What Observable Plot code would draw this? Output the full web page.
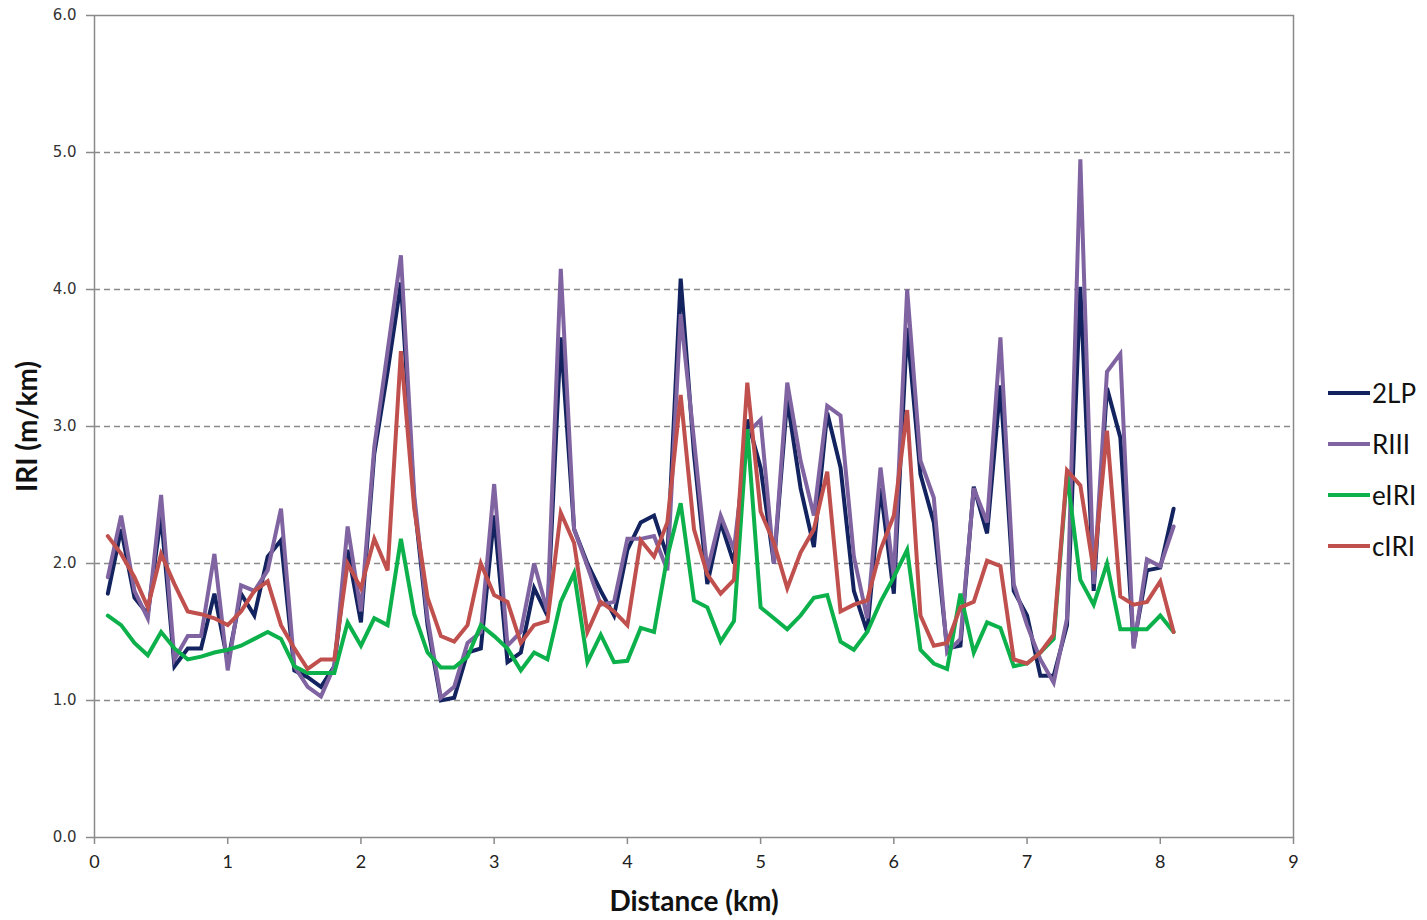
<!DOCTYPE html>
<html>
<head>
<meta charset="utf-8">
<script src="https://cdn.jsdelivr.net/npm/d3@7"></script>
<script src="https://cdn.jsdelivr.net/npm/@observablehq/plot@0.6"></script>
<style>
  html, body { margin: 0; padding: 0; background: #fff; }
  #wrap { position: relative; width: 1427px; height: 920px; }
  #legend { position: absolute; left: 1328px; top: 367px; font-family: Lato, "Open Sans", sans-serif; font-size: 26px; color: #111; }
  #legend .item { display: flex; align-items: center; height: 51px; }
  #legend .sw { width: 42px; height: 4px; margin-right: 2px; }
</style>
</head>
<body>
<div id="wrap">
  <div id="chart"></div>
  <div id="legend"></div>
</div>
<script>
const distance = [0.1,0.2,0.3,0.4,0.5,0.6,0.7,0.8,0.9,1.0,1.1,1.2,1.3,1.4,1.5,1.6,1.7,1.8,1.9,2.0,2.1,2.2,2.3,2.4,2.5,2.6,2.7,2.8,2.9,3.0,3.1,3.2,3.3,3.4,3.5,3.6,3.7,3.8,3.9,4.0,4.1,4.2,4.3,4.4,4.5,4.6,4.7,4.8,4.9,5.0,5.1,5.2,5.3,5.4,5.5,5.6,5.7,5.8,5.9,6.0,6.1,6.2,6.3,6.4,6.5,6.6,6.7,6.8,6.9,7.0,7.1,7.2,7.3,7.4,7.5,7.6,7.7,7.8,7.9,8.0,8.1];

const iri2LP = [1.78,2.25,1.75,1.63,2.35,1.25,1.38,1.38,1.78,1.28,1.78,1.62,2.05,2.17,1.22,1.17,1.10,1.25,2.10,1.57,2.80,3.40,4.05,2.45,1.55,1.00,1.02,1.35,1.38,2.35,1.28,1.35,1.82,1.62,3.65,2.25,2.00,1.80,1.62,2.10,2.30,2.35,2.05,4.08,2.80,1.85,2.30,2.00,3.05,2.70,2.00,3.20,2.55,2.12,3.10,2.70,1.80,1.50,2.55,1.78,3.72,2.65,2.30,1.38,1.40,2.56,2.22,3.30,1.80,1.62,1.18,1.18,1.55,4.02,1.80,3.28,2.92,1.40,1.95,1.97,2.40];

const iriRIII = [1.90,2.35,1.80,1.60,2.50,1.30,1.47,1.47,2.07,1.22,1.84,1.80,1.95,2.40,1.25,1.10,1.03,1.25,2.27,1.65,2.85,3.55,4.25,2.50,1.60,1.02,1.10,1.42,1.50,2.58,1.40,1.50,2.00,1.65,4.15,2.25,1.98,1.70,1.72,2.18,2.18,2.20,1.95,3.82,2.90,1.95,2.35,2.10,2.95,3.05,2.00,3.32,2.75,2.35,3.15,3.08,2.05,1.60,2.70,1.90,4.00,2.75,2.48,1.35,1.45,2.55,2.30,3.65,1.85,1.55,1.30,1.13,1.60,4.95,1.85,3.40,3.53,1.38,2.03,1.98,2.27];

const iriE = [1.62,1.55,1.42,1.33,1.50,1.38,1.30,1.32,1.35,1.37,1.40,1.45,1.50,1.45,1.25,1.20,1.20,1.20,1.57,1.40,1.60,1.55,2.18,1.63,1.35,1.24,1.24,1.32,1.55,1.47,1.38,1.22,1.35,1.30,1.72,1.93,1.28,1.48,1.28,1.29,1.53,1.50,2.05,2.44,1.73,1.68,1.43,1.58,2.98,1.68,1.60,1.52,1.62,1.75,1.77,1.43,1.37,1.50,1.72,1.90,2.10,1.37,1.27,1.23,1.78,1.35,1.57,1.53,1.25,1.27,1.35,1.45,2.65,1.88,1.70,2.00,1.52,1.52,1.52,1.62,1.50];

const iriC = [2.20,2.07,1.90,1.68,2.07,1.85,1.65,1.63,1.60,1.55,1.65,1.80,1.87,1.55,1.38,1.23,1.30,1.30,2.00,1.82,2.18,1.95,3.55,2.40,1.75,1.47,1.43,1.55,2.00,1.77,1.72,1.42,1.55,1.58,2.37,2.15,1.50,1.72,1.65,1.55,2.17,2.05,2.30,3.23,2.25,1.92,1.78,1.88,3.32,2.38,2.15,1.82,2.08,2.25,2.67,1.65,1.70,1.73,2.10,2.35,3.12,1.62,1.40,1.42,1.68,1.72,2.02,1.98,1.30,1.27,1.35,1.48,2.68,2.57,1.95,2.97,1.76,1.70,1.72,1.87,1.50];

const seriesNames = ["2LP", "RIII", "eIRI", "cIRI"];
const seriesColors = ["#13235f", "#8064a2", "#0db14b", "#c0504d"];
const seriesValues = [iri2LP, iriRIII, iriE, iriC];

const xTicks = [0,1,2,3,4,5,6,7,8,9];
const yTicks = [0,1,2,3,4,5,6];
const gridTicks = [1,2,3,4,5];

const rows = [];
seriesNames.forEach((name, i) => {
  distance.forEach((d, j) => rows.push({series: name, x: d, y: seriesValues[i][j]}));
});

const chart = Plot.plot({
  width: 1427,
  height: 920,
  marginLeft: 94,
  marginRight: 134,
  marginTop: 15,
  marginBottom: 83,
  style: {background: "#fff", overflow: "visible"},
  x: {domain: [0, 9]},
  y: {domain: [0, 6]},
  color: {domain: seriesNames, range: seriesColors},
  marks: [
    Plot.gridY(gridTicks, {stroke: "#8a8a8a", strokeOpacity: 1, strokeWidth: 1.5, strokeDasharray: "6,4"}),
    Plot.frame({stroke: "#8a8a8a", strokeWidth: 1.5}),
    Plot.axisY(yTicks, {tickSize: 8, tickPadding: 10, tickFormat: d => d.toFixed(1), label: null,
      fill: "#333", stroke: "#8a8a8a", strokeWidth: 1.5}),
    Plot.axisX(xTicks, {tickSize: 7, tickPadding: 11, tickFormat: d => String(d), label: null,
      fill: "#222", stroke: "#8a8a8a", strokeWidth: 1.5}),
    Plot.line(rows, {x: "x", y: "y", z: "series", stroke: "series", strokeWidth: 4, strokeLinejoin: "miter", strokeMiterlimit: 4}),
    Plot.text(["Distance (km)"], {frameAnchor: "bottom", dy: 73, fontFamily: "Lato", fontWeight: "bold", fontSize: 28, fill: "#111"}),
    Plot.text(["IRI (m/km)"], {frameAnchor: "left", textAnchor: "middle", dx: -66, rotate: -90, fontFamily: "Lato", fontWeight: "bold", fontSize: 28, fill: "#111"})
  ]
});
document.getElementById("chart").appendChild(chart);

// style tick labels
d3.select(chart).selectAll("text").each(function() {
  const t = this.textContent;
  if (/^\d\.\d$/.test(t)) {
    this.style.fontFamily = "'DejaVu Sans', sans-serif";
    this.style.fontSize = "15px";
  } else if (/^\d$/.test(t)) {
    this.style.fontFamily = "Lato, sans-serif";
    this.style.fontSize = "18px";
  }
});

const legend = document.getElementById("legend");
seriesNames.forEach((name, i) => {
  const item = document.createElement("div");
  item.className = "item";
  const sw = document.createElement("div");
  sw.className = "sw";
  sw.style.background = seriesColors[i];
  const label = document.createElement("span");
  label.textContent = name;
  item.appendChild(sw);
  item.appendChild(label);
  legend.appendChild(item);
});
</script>
</body>
</html>
